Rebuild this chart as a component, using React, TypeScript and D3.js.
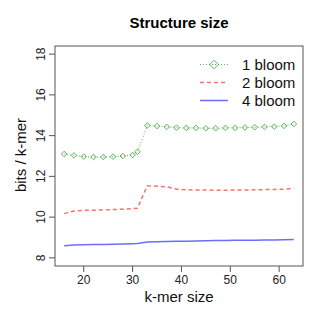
import React from "react";
import * as d3 from "d3";

const kmer = [16, 18, 20, 22, 24, 26, 28, 30, 31, 33, 35, 37, 39, 41, 43, 45, 47, 49, 51, 53, 55, 57, 59, 61, 63];
const bloom1 = [13.10, 13.03, 12.97, 12.95, 12.95, 12.97, 13.00, 13.05, 13.21, 14.50, 14.47, 14.43, 14.39, 14.38, 14.38, 14.36, 14.36, 14.38, 14.38, 14.40, 14.41, 14.43, 14.44, 14.48, 14.57];
const bloom2 = [10.17, 10.30, 10.33, 10.34, 10.35, 10.37, 10.39, 10.42, 10.43, 11.54, 11.52, 11.49, 11.37, 11.34, 11.33, 11.33, 11.32, 11.32, 11.33, 11.33, 11.34, 11.35, 11.36, 11.37, 11.42];
const bloom4 = [8.59, 8.63, 8.64, 8.65, 8.66, 8.67, 8.68, 8.69, 8.70, 8.78, 8.79, 8.80, 8.81, 8.82, 8.83, 8.84, 8.85, 8.85, 8.86, 8.86, 8.87, 8.88, 8.88, 8.89, 8.90];
const seriesNames = ["1 bloom", "2 bloom", "4 bloom"];
const xTicks = [20, 30, 40, 50, 60];
const yTicks = [8, 10, 12, 14, 16, 18];

const W = 322, H = 322;
const left = 55, right = 303, top = 46, bottom = 266;
const font = "Liberation Sans, Arial, sans-serif";

const green = "rgba(40,160,40,0.75)";
const red = "rgba(255,60,60,0.75)";
const blue = "rgba(60,60,255,0.75)";

export default function App() {
  // R style: pad domain by 4%
  const xpad = (63 - 16) * 0.04;
  const ypad = (18 - 8) * 0.04;
  const x = d3.scaleLinear().domain([16 - xpad, 63 + xpad]).range([left, right]);
  const y = d3.scaleLinear().domain([8 - ypad, 18 + ypad]).range([bottom, top]);

  const line = d3.line<number>().x((_, i) => x(kmer[i])).y(d => y(d));
  const diamond = (cx: number, cy: number, r: number) =>
    `M${cx},${cy - r}L${cx + r},${cy}L${cx},${cy + r}L${cx - r},${cy}Z`;

  const legY = [64.5, 82.5, 100.5];

  return (
    <div style={{ position: "absolute", left: 0, top: 0 }}>
      <svg width={W} height={H} style={{ display: "block", background: "#fff" }}>
        <text x={179} y={28} textAnchor="middle" fontFamily={font} fontWeight="bold" fontSize={15}>
          Structure size
        </text>

        {/* series */}
        <path d={line(bloom4) || ""} fill="none" stroke={blue} strokeWidth={1.5} />
        <path d={line(bloom2) || ""} fill="none" stroke={red} strokeWidth={1.5} strokeDasharray="4,3" />
        <path d={line(bloom1) || ""} fill="none" stroke={green} strokeWidth={1} strokeDasharray="1,2" />
        {bloom1.map((v, i) => (
          <path key={i} d={diamond(x(kmer[i]), y(v), 2.8)} fill="none" stroke={green} strokeWidth={1} />
        ))}

        {/* box */}
        <rect x={left} y={top} width={right - left} height={bottom - top} fill="none" stroke="#555" strokeWidth={1} />

        {/* x axis */}
        {xTicks.map(t => (
          <g key={t}>
            <line x1={x(t)} x2={x(t)} y1={bottom} y2={bottom + 6} stroke="#555" />
            <text x={x(t)} y={284} textAnchor="middle" fontFamily={font} fontSize={12} fill="#222">{t}</text>
          </g>
        ))}
        {/* y axis */}
        {yTicks.map(t => (
          <g key={t}>
            <line x1={left - 6} x2={left} y1={y(t)} y2={y(t)} stroke="#555" />
            <text transform={`translate(45,${y(t)}) rotate(-90)`} textAnchor="middle" fontFamily={font} fontSize={12} fill="#222">{t}</text>
          </g>
        ))}

        <text x={179} y={302} textAnchor="middle" fontFamily={font} fontSize={15} fill="#111">k-mer size</text>
        <text transform={`translate(26,155) rotate(-90)`} textAnchor="middle" fontFamily={font} fontSize={15} fill="#111">bits / k-mer</text>

        {/* legend */}
        <line x1={200} x2={228} y1={legY[0]} y2={legY[0]} stroke={green} strokeDasharray="1,2" />
        <path d={diamond(214, legY[0], 4.3)} fill="none" stroke={green} strokeWidth={1} />
        <line x1={200} x2={228} y1={legY[1]} y2={legY[1]} stroke={red} strokeWidth={1.5} strokeDasharray="4,3" />
        <line x1={200} x2={228} y1={legY[2]} y2={legY[2]} stroke={blue} strokeWidth={1.5} />
        {seriesNames.map((n, i) => (
          <text key={n} x={242} y={legY[i] + 5.5} fontFamily={font} fontSize={15} fill="#111">{n}</text>
        ))}
      </svg>
    </div>
  );
}
